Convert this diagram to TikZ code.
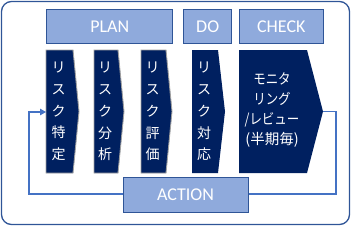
\documentclass[tikz,border=0pt]{standalone}
\usepackage{fontspec}
\setmainfont{Carlito}
\newfontfamily\jp{Noto Sans CJK JP}
\newfontfamily\jpn[FakeStretch=0.86]{Noto Sans CJK JP}
\usetikzlibrary{arrows.meta}
\definecolor{navy}{HTML}{002060}
\definecolor{lblue}{HTML}{8FAADC}
\definecolor{bblue}{HTML}{2F5597}
\definecolor{lineblue}{HTML}{4472C4}
\tikzset{
  phase/.style={draw=bblue, fill=lblue, line width=0.8pt, text=white, inner sep=0pt,
    font=\fontsize{18}{20}\selectfont, minimum height=34.5pt},
  stepshape/.style={fill=navy},
  stepedge/.style={draw=gray!75, line width=0.9pt},
  steptext/.style={text=white, inner sep=0pt, align=center, font=\jp\fontsize{14}{21.75}\selectfont},
  checktext/.style={text=white, inner sep=0pt, align=center, font=\jp\fontsize{14.5}{20}\selectfont},
  loopline/.style={draw=lineblue, line width=1.2pt},
  frame/.style={draw=bblue, line width=1.3pt, rounded corners=10pt}
}
\begin{document}
\begin{tikzpicture}[x=1pt,y=-1pt]
\useasboundingbox (0,0) rectangle (351,226);
\draw[frame] (1.5,1.5) rectangle (349.5,224.5);

% step shapes
\foreach \L/\R/\T/\e in {46/73/79/1, 94/118/124/1, 141/166/172/1, 192/218/225/0, 239/307/323/0}{
  \ifnum\e=1
    \path[stepshape, stepedge] (\L,50) -- (\R,50) -- (\T,111.5) -- (\R,173) -- (\L,173) -- cycle;
  \else
    \path[stepshape] (\L,50) -- (\R,50) -- (\T,111.5) -- (\R,173) -- (\L,173) -- cycle;
  \fi
}
\coordinate (s1in) at (46,112);
\coordinate (s5tip) at (323,111.5);

% feedback loop
\draw[loopline, -{Triangle[length=6pt,width=6.5pt]}]
  (s5tip) -- (336,111.5) -- (336,194) -- (29,194) -- (29,112) -- (s1in);

% step texts
\node[steptext] (t1) at (58.5,111.5) {リ\\ス\\ク\\特\\定};
\node[steptext] (t2) at (105,111.5) {リ\\ス\\ク\\分\\析};
\node[steptext] (t3) at (152.5,111.5) {リ\\ス\\ク\\評\\価};
\node[steptext] (t4) at (204,111.5) {リ\\ス\\ク\\対\\応};
\node[checktext] (t5) at (272,110.5) {\jpn モニタ\\\jpn リング\\\jpn /レビュー\\(半期毎)};

% phase boxes
\node[phase, minimum width=126pt] (plan) at (109.7,26.3) {PLAN};
\node[phase, minimum width=48pt] (do) at (207.7,26.3) {DO};
\node[phase, minimum width=84pt] (check) at (281.3,26.3) {CHECK};
\node[phase, minimum width=125pt, minimum height=35pt] (action) at (185.5,194.5) {ACTION};
\end{tikzpicture}
\end{document}
